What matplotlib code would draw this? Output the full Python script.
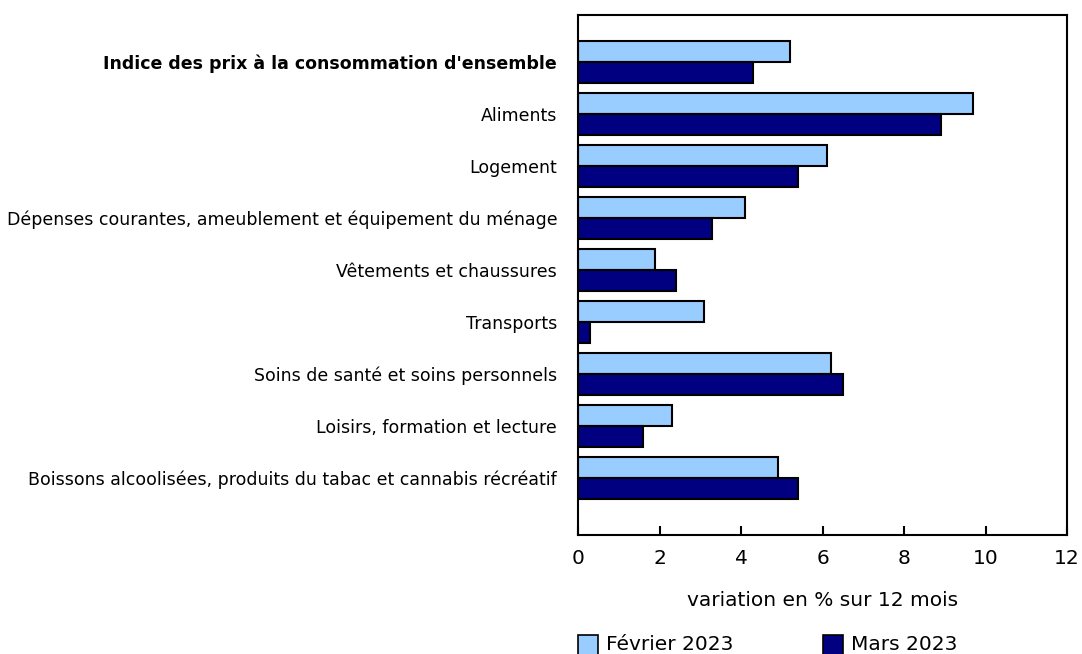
import numpy as np
import matplotlib.pyplot as plt
from matplotlib.patches import Rectangle

categories = [
    "Indice des prix à la consommation d'ensemble",
    "Aliments",
    "Logement",
    "Dépenses courantes, ameublement et équipement du ménage",
    "Vêtements et chaussures",
    "Transports",
    "Soins de santé et soins personnels",
    "Loisirs, formation et lecture",
    "Boissons alcoolisées, produits du tabac et cannabis récréatif",
]
fevrier_2023 = [5.2, 9.7, 6.1, 4.1, 1.9, 3.1, 6.2, 2.3, 4.9]
mars_2023 = [4.3, 8.9, 5.4, 3.3, 2.4, 0.3, 6.5, 1.6, 5.4]
series_labels = ["Février 2023", "Mars 2023"]
xticks = [0, 2, 4, 6, 8, 10, 12]

light = '#99ccff'
dark = '#000080'
W, H = 1082, 654

plt.rcParams['font.family'] = 'DejaVu Sans'
fig = plt.figure(figsize=(W / 100, H / 100), dpi=100)
ax = fig.add_axes([578 / W, 1 - 535 / H, 489 / W, 520 / H])

y = np.arange(len(categories))
h = 0.4
ax.barh(y - h / 2, fevrier_2023, height=h, color=light, edgecolor='black', linewidth=1.5)
ax.barh(y + h / 2, mars_2023, height=h, color=dark, edgecolor='black', linewidth=1.5)

ax.set_ylim(9.1, -0.9)
ax.set_xlim(0, 12)
ax.set_yticks(y)
ax.set_yticklabels(categories, fontsize=12.5)
ax.get_yticklabels()[0].set_fontweight('bold')
ax.tick_params(axis='y', length=0, pad=15)
ax.set_xticks(xticks)
ax.set_xticklabels([str(t) for t in xticks], fontsize=14.5)
ax.tick_params(axis='x', direction='in', length=6.5, width=1.5, pad=10)
for s in ax.spines.values():
    s.set_linewidth(1.5)
ax.set_xlabel("variation en % sur 12 mois", fontsize=14.5, labelpad=17)

# legend drawn by hand, sitting on the bottom edge like the source
for x0, color, label in [(578, light, series_labels[0]), (823, dark, series_labels[1])]:
    fig.patches.append(Rectangle((x0 / W, -4 / H), 20 / W, 23 / H, transform=fig.transFigure,
                                 facecolor=color, edgecolor='black', linewidth=1.2))
    fig.text((x0 + 28) / W, 4 / H, label, fontsize=14.5, va='baseline', ha='left')

fig.savefig('out.png', dpi=100)
